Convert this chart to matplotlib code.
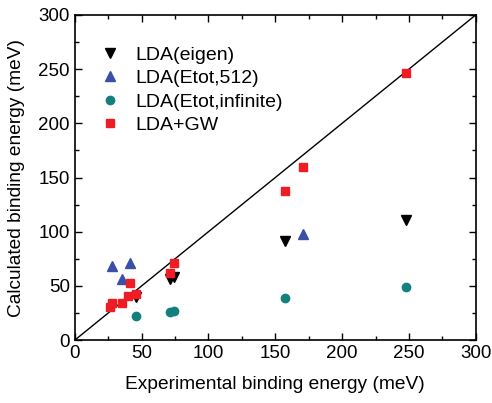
import matplotlib.pyplot as plt
from matplotlib.ticker import MultipleLocator

plt.rcParams['font.family'] = ['Liberation Sans', 'DejaVu Sans']

# experimental vs calculated binding energies (meV)
eigen_x = [46, 71, 74, 157, 248]
eigen_y = [40, 56, 58, 91, 111]

etot512_x = [28, 35, 41, 171]
etot512_y = [68, 56, 71, 98]

etotinf_x = [46, 71, 74, 157, 248]
etotinf_y = [22, 26, 27, 39, 49]

gw_x = [26, 28, 35, 40, 41, 46, 71, 74, 157, 171, 248]
gw_y = [31, 34, 34, 41, 53, 43, 62, 71, 138, 160, 246]

fig = plt.figure(figsize=(4.92, 4.03), dpi=100)
ax = fig.add_axes([0.152, 0.156, 0.815, 0.807])

ax.plot([0, 300], [0, 300], color='black', lw=1.0, zorder=1)

ax.plot(eigen_x, eigen_y, 'v', color='black', ms=7, ls='none', label='LDA(eigen)', zorder=3)
ax.plot(etot512_x, etot512_y, '^', color='#3A4FA6', ms=7, ls='none', label='LDA(Etot,512)', zorder=3)
ax.plot(etotinf_x, etotinf_y, 'o', color='#11807E', ms=6, ls='none', label='LDA(Etot,infinite)', zorder=3)
ax.plot(gw_x, gw_y, 's', color='#EE1C25', ms=6, ls='none', label='LDA+GW', zorder=4)

ax.set_xlim(0, 300)
ax.set_ylim(0, 300)
ax.xaxis.set_major_locator(MultipleLocator(50))
ax.xaxis.set_minor_locator(MultipleLocator(25))
ax.yaxis.set_major_locator(MultipleLocator(50))
ax.yaxis.set_minor_locator(MultipleLocator(25))
ax.tick_params(which='both', direction='in', top=True, right=True, labelsize=13.5)
ax.tick_params(which='major', length=5, width=1)
ax.tick_params(which='minor', length=3, width=1)
for s in ax.spines.values():
    s.set_linewidth(1.2)

ax.set_xlabel('Experimental binding energy (meV)', fontsize=13.8, labelpad=10)
ax.set_ylabel('Calculated binding energy (meV)', fontsize=13.8, labelpad=10)

ax.legend(loc='upper left', frameon=False, fontsize=14, handlelength=1.6,
          handletextpad=0.5, labelspacing=0.3, bbox_to_anchor=(0.02, 0.94),
          borderaxespad=0.2)

fig.savefig('out.png', dpi=100)
